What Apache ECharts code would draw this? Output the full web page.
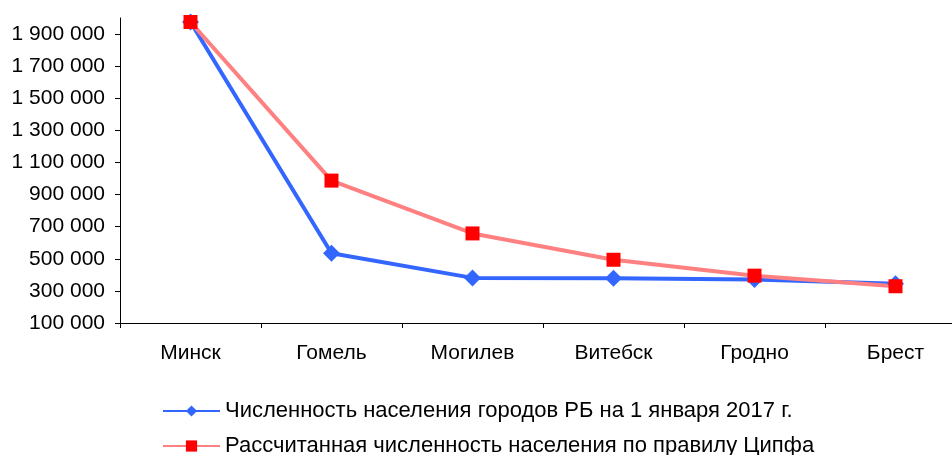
<!DOCTYPE html>
<html>
<head>
<meta charset="utf-8">
<script src="https://cdn.jsdelivr.net/npm/echarts@6/dist/echarts.min.js"></script>
<style>
  html, body { margin: 0; padding: 0; background: #fff; overflow: hidden; }
  #chart { width: 966px; height: 455px; }
</style>
</head>
<body>
<div id="chart"></div>
<script>
// города
const cities = ['Минск', 'Гомель', 'Могилев', 'Витебск', 'Гродно', 'Брест'];
// численность на 1 января 2017
const actual = [1975000, 535000, 381000, 378000, 371000, 344000];
// по правилу Ципфа
const zipf = [1975000, 987000, 658000, 494000, 395000, 329000];

const names = [
  'Численность населения городов РБ на 1 января 2017 г.',
  'Рассчитанная численность населения по правилу Ципфа'
];

const font = 'Arial, "Liberation Sans", sans-serif';

function fmt(v) {
  return String(v).replace(/\B(?=(\d{3})+(?!\d))/g, ' ');
}

// одна легенда на строку
function legendRow(name, top) {
  return {
    left: 157,
    top: top,
    itemWidth: 57,
    itemHeight: 14,
    textStyle: { fontFamily: font, fontSize: 22, lineHeight: 24, color: '#000' },
    data: [name]
  };
}

const chart = echarts.init(document.getElementById('chart'));
chart.setOption({
  animation: false,
  grid: { left: 120, right: 0, top: 18, bottom: 132 },
  legend: [legendRow(names[0], 394), legendRow(names[1], 429)],
  xAxis: {
    type: 'category',
    data: cities,
    axisLine: { lineStyle: { color: '#000', width: 1 } },
    axisTick: { show: true, length: 5, lineStyle: { color: '#000' } },
    axisLabel: { margin: 20, fontFamily: font, fontSize: 21, color: '#000' }
  },
  yAxis: {
    type: 'value',
    min: 100000,
    max: 2000000,
    interval: 200000,
    splitLine: { show: false },
    axisLine: { show: true, lineStyle: { color: '#000', width: 1 } },
    axisTick: { show: true, length: 5, lineStyle: { color: '#000' } },
    axisLabel: {
      margin: 15,
      fontFamily: font,
      fontSize: 21,
      color: '#000',
      showMaxLabel: false,
      formatter: function (v) { return v === 2000000 ? '' : fmt(v); }
    }
  },
  series: [
    {
      name: names[0],
      type: 'line',
      data: actual,
      symbol: 'diamond',
      symbolSize: 17,
      lineStyle: { color: '#3366ff', width: 4 },
      itemStyle: { color: '#3366ff' }
    },
    {
      name: names[1],
      type: 'line',
      data: zipf,
      symbol: 'rect',
      symbolSize: 14,
      lineStyle: { color: '#ff8080', width: 4 },
      itemStyle: { color: '#ff0000' }
    }
  ]
});
</script>
</body>
</html>
